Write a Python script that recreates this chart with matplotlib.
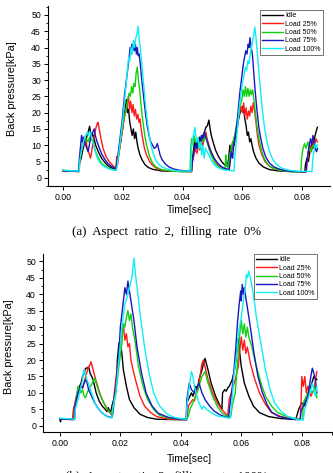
import matplotlib
matplotlib.use("Agg")
from matplotlib import pyplot as plt
from matplotlib.ticker import MultipleLocator

# (time [ms], back pressure [kPa])
labels = ['Idle', 'Load 25%', 'Load 50%', 'Load 75%', 'Load 100%']
colors = ['#000000', '#ff1a1a', '#10d010', '#1818c0', '#10eef5']

# ---- (a) filling rate 0% ----
a_idle = [(0, 2.1), (5.4, 1.9), (5.6, 4.5), (6.2, 6), (6.6, 8), (7.0, 9.5), (7.5, 11), (8.0, 12.5), (8.5, 14),
          (9.0, 15.8), (9.3, 14), (9.6, 12.5), (10.0, 13.5), (10.5, 12), (11.0, 10), (12.0, 7.8), (13.0, 6),
          (14.0, 4.8), (15.0, 3.8), (16.0, 3.2), (17.0, 2.7), (17.6, 2.5), (18.0, 4), (18.5, 6), (19.0, 9),
          (19.5, 12), (20.0, 15), (20.5, 19), (21.0, 22), (21.3, 24), (21.6, 20), (22.0, 21), (22.4, 17),
          (22.8, 15), (23.2, 13), (23.6, 15), (24.0, 12), (24.4, 14), (24.8, 11), (25.2, 9), (25.8, 7),
          (26.5, 5.5), (27.5, 4), (28.5, 3.2), (30, 2.6), (33, 2.1), (36, 2.0), (40, 1.9), (43.0, 1.9),
          (43.2, 5), (43.6, 8), (44.0, 11), (44.4, 9), (44.8, 12), (45.3, 10), (45.8, 12.5), (46.3, 11),
          (46.8, 13), (47.3, 14), (47.8, 15.5), (48.3, 16), (48.8, 17.7), (49.2, 15), (49.6, 13), (50.2, 11),
          (51, 8.5), (52, 6.5), (53, 5), (54, 4), (55, 3.5), (55.4, 6), (55.8, 10), (56.2, 7), (56.7, 11),
          (57.2, 10), (57.7, 13), (58.2, 15), (58.7, 18), (59.2, 20), (59.7, 21), (60.2, 22), (60.5, 20),
          (60.8, 18), (61.2, 16), (61.6, 13), (62, 14), (62.4, 11), (62.8, 12), (63.2, 10), (63.7, 8),
          (64.5, 6), (65.5, 4.5), (67, 3.3), (69, 2.5), (72, 2.1), (76, 1.9), (80.8, 1.8), (81.0, 4),
          (81.5, 6), (82, 5), (82.5, 8), (83, 10), (83.5, 9), (84, 12), (84.5, 14), (85, 15.5)]
a_load25 = [(0, 2.2), (5.5, 2.0), (5.7, 5), (6.2, 8), (6.6, 10), (7.0, 11), (7.4, 10), (7.8, 11.5), (8.2, 9),
            (8.6, 8), (9.0, 7), (9.3, 6), (9.6, 7.5), (10.0, 10), (10.5, 12.5), (11.0, 15), (11.5, 16.5),
            (11.8, 17), (12.2, 15), (12.8, 12), (13.5, 9), (14.5, 6.5), (15.5, 5), (16.5, 4), (17.3, 3.2),
            (17.8, 2.8), (18.0, 6.5), (18.3, 4), (18.7, 7), (19.2, 10), (19.7, 13), (20.2, 16), (20.7, 19),
            (21.2, 21), (21.6, 23), (22.0, 25), (22.3, 21), (22.7, 23.5), (23.1, 20), (23.5, 22.5), (23.9, 19),
            (24.3, 21), (24.7, 18), (25.1, 19.5), (25.5, 17), (25.8, 18), (26.2, 15), (26.7, 12), (27.3, 9),
            (28, 7), (29, 5), (30, 3.8), (31.5, 2.8), (34, 2.2), (38, 2.0), (43.0, 1.9), (43.3, 5), (43.8, 7),
            (44.3, 9), (44.8, 7.5), (45.3, 10), (45.8, 8.5), (46.3, 11), (46.8, 10), (47.3, 12.5), (47.8, 14),
            (48.2, 12), (48.8, 10), (49.5, 8), (50.5, 6), (51.5, 4.5), (52.5, 3.5), (54, 2.8), (55.5, 2.5),
            (56.0, 6), (56.5, 9), (57, 11), (57.5, 13), (58, 15), (58.5, 18), (59, 20), (59.5, 22), (60, 20),
            (60.4, 23), (60.8, 19), (61.2, 21.5), (61.6, 18), (62, 20.5), (62.4, 19), (62.8, 22), (63.2, 20),
            (63.6, 23), (64, 21), (64.5, 17), (65, 13), (65.5, 10), (66.5, 7), (67.5, 5), (69, 3.5),
            (71, 2.6), (74, 2.1), (78, 1.9), (81.3, 1.8), (81.6, 5), (82, 8), (82.5, 10), (83, 8), (83.5, 11),
            (84, 9), (84.5, 12), (85, 11)]
a_load50 = [(0, 2.3), (5.4, 2.0), (5.6, 5), (6.0, 7), (6.5, 9), (7.0, 10.5), (7.5, 11), (8.0, 12), (8.5, 11),
            (9.0, 12.5), (9.5, 11.5), (10.0, 12), (10.4, 10), (11.0, 8), (12.0, 6), (13, 4.5), (14, 3.7),
            (15, 3.1), (16, 2.7), (17, 2.4), (17.8, 2.3), (18.2, 5), (18.7, 8), (19.2, 11), (19.7, 14),
            (20.2, 17), (20.7, 19), (21.2, 21), (21.7, 24), (22.2, 26), (22.6, 25), (23, 28), (23.4, 26),
            (23.8, 29), (24.2, 28), (24.5, 32), (24.9, 34), (25.3, 30), (25.7, 27), (26.2, 22), (26.8, 17),
            (27.4, 13), (28, 10), (29, 6.5), (30, 4.5), (31, 3.4), (33, 2.5), (36, 2.1), (40, 1.9), (42.5, 1.9),
            (42.7, 8), (43.0, 12), (43.4, 10), (43.8, 13), (44.2, 11), (44.7, 12), (45.2, 9), (45.7, 11),
            (46.2, 10), (46.7, 12), (47.2, 11.5), (47.7, 13), (48.2, 11), (48.8, 9), (49.5, 7), (50.5, 5),
            (51.5, 3.8), (52.5, 3), (53.5, 2.6), (54.2, 2.5), (54.4, 7), (54.7, 4), (55.2, 3), (55.6, 6),
            (56.2, 9), (56.8, 11), (57.4, 13), (58, 16), (58.6, 19), (59.2, 22), (59.8, 24), (60.2, 27),
            (60.6, 25), (61, 28), (61.4, 25), (61.8, 27.5), (62.2, 25), (62.6, 27), (63, 25.5), (63.4, 27),
            (63.8, 24), (64.3, 20), (64.8, 16), (65.5, 12), (66.3, 8.5), (67.2, 6), (68.5, 4), (70, 3),
            (72.5, 2.3), (76, 1.9), (79.5, 1.8), (79.7, 6), (80.2, 9), (80.7, 10.5), (81.2, 9), (81.8, 11),
            (82.3, 9), (82.8, 8), (83.4, 10), (84, 9.5), (84.5, 8.5), (85, 9)]
a_load75 = [(0, 2.2), (5.4, 1.9), (5.6, 6), (6.0, 10), (6.3, 13), (6.6, 11), (6.9, 12.5), (7.3, 11), (7.7, 10),
            (8.1, 9), (8.5, 8), (8.9, 10), (9.3, 12), (9.7, 13.5), (10.1, 14), (10.5, 15), (10.9, 13),
            (11.5, 11), (12.3, 9), (13.2, 7), (14.2, 5.5), (15.2, 4.3), (16.2, 3.6), (17.2, 3.0), (17.8, 2.7),
            (18.2, 5), (18.6, 8), (19.0, 11), (19.4, 14), (19.8, 17), (20.2, 21), (20.6, 25), (21.0, 28),
            (21.4, 31), (21.8, 34), (22.2, 37), (22.5, 40), (22.8, 38), (23.1, 41), (23.4, 39), (23.7, 42),
            (24.0, 39), (24.3, 41), (24.6, 38), (24.9, 40), (25.2, 37.5), (25.5, 38), (25.9, 35), (26.4, 30),
            (27, 25), (27.6, 20), (28.2, 16), (28.8, 13), (29.4, 11), (30, 10), (30.6, 9), (31.2, 9.5),
            (31.6, 10.5), (32, 9), (32.5, 7), (33.2, 5.5), (34.2, 4.3), (35.5, 3.3), (37, 2.7), (39, 2.3),
            (41, 2.1), (43, 2.0), (43.3, 5), (43.8, 8), (44.3, 10), (44.8, 9), (45.3, 12), (45.8, 10),
            (46.3, 13), (46.8, 12), (47.3, 14), (47.7, 12.5), (48.3, 11), (49, 9), (50, 7), (51, 5.3),
            (52, 4.2), (53, 3.4), (54, 2.9), (55, 2.6), (55.6, 2.5), (55.9, 5), (56.3, 8), (56.7, 6),
            (57.1, 10), (57.5, 12), (57.9, 15), (58.3, 18), (58.7, 22), (59.1, 26), (59.5, 29), (59.9, 32),
            (60.3, 35), (60.7, 37), (61.1, 39), (61.5, 38), (61.9, 41), (62.2, 40), (62.5, 43), (62.9, 40),
            (63.3, 38), (63.7, 33), (64.2, 27), (64.8, 21), (65.4, 16), (66, 12.5), (66.8, 9), (67.8, 6.3),
            (69, 4.5), (70.5, 3.3), (72.5, 2.6), (75, 2.1), (78, 1.9), (81.2, 1.8), (81.5, 5), (81.9, 8),
            (82.3, 10), (82.7, 12), (83.1, 10), (83.5, 13), (83.9, 11), (84.3, 9), (84.7, 8), (85, 9)]
a_load100 = [(0, 2.3), (5.5, 2.0), (5.7, 5), (6.2, 8), (6.7, 10), (7.2, 12), (7.7, 13), (8.2, 14), (8.6, 13),
             (9.0, 14.2), (9.4, 13.5), (9.8, 12), (10.3, 10), (10.9, 8), (11.6, 6), (12.4, 4.7), (13.3, 3.8),
             (14.3, 3.2), (15.3, 2.8), (16.3, 2.5), (17.3, 2.4), (18.0, 2.3), (18.4, 5), (18.8, 8), (19.2, 11),
             (19.6, 14), (20.0, 17), (20.4, 21), (20.8, 25), (21.2, 29), (21.6, 33), (22.0, 37), (22.4, 36),
             (22.8, 40), (23.2, 38), (23.6, 42), (24.0, 40), (24.4, 43), (24.8, 44), (25.2, 46.5), (25.5, 43),
             (25.9, 40), (26.3, 36), (26.8, 31), (27.3, 26), (27.8, 21), (28.3, 17), (28.9, 13), (29.5, 10),
             (30.2, 7.5), (31, 5.5), (32, 4.2), (33, 3.4), (34.5, 2.8), (36.5, 2.3), (39, 2.1), (42.8, 2.0),
             (43.0, 9), (43.4, 12), (43.8, 14), (44.1, 15.5), (44.4, 13), (44.8, 11), (45.2, 12.5), (45.6, 9),
             (46.0, 11), (46.4, 7), (46.8, 10), (47.2, 6), (47.7, 9), (48.2, 8), (48.8, 7), (49.5, 5.5),
             (50.3, 4.3), (51.3, 3.4), (52.5, 2.8), (54, 2.4), (56, 2.2), (57.2, 2.1), (57.4, 6), (57.8, 10),
             (58.2, 14), (58.6, 18), (59, 22), (59.4, 25), (59.8, 28), (60.2, 30), (60.6, 32), (61, 34),
             (61.4, 33), (61.8, 36), (62.2, 35), (62.6, 38), (63, 40), (63.4, 42), (63.8, 44), (64.1, 46.3),
             (64.5, 43), (65, 38), (65.5, 32), (66, 27), (66.5, 22), (67, 18), (67.6, 14), (68.3, 10.5),
             (69.2, 7.5), (70.2, 5.5), (71.5, 4), (73, 3), (75, 2.4), (78, 2.0), (83.2, 1.9), (83.5, 6),
             (84, 9), (84.3, 10.5), (84.7, 9), (85, 10)]

# ---- (b) ----
b_idle = [(0, 2.0), (0.2, 1.2), (0.4, 2.0), (4.3, 1.9), (4.5, 5), (5.0, 6.5), (5.5, 8), (6.0, 10), (6.5, 12),
          (7.0, 13), (7.5, 15), (8.0, 16), (8.5, 17.5), (9.0, 17.5), (9.5, 18), (10.0, 16), (10.5, 15),
          (11.0, 14), (12.0, 10), (13.0, 7.5), (14.0, 6), (15.0, 5), (15.6, 4.3), (16.0, 5.5), (16.4, 4.5),
          (16.8, 4), (17.2, 6), (17.8, 8), (18.3, 10), (18.8, 15), (19.0, 20), (19.5, 25), (20.0, 26),
          (20.5, 22), (21.0, 17), (22.0, 12), (23.0, 8), (24.5, 5.5), (26.5, 3.5), (29, 2.5), (32, 2.0),
          (36, 1.9), (41.8, 1.8), (42.0, 7), (42.5, 8), (43.5, 10), (44.0, 9), (45.0, 12), (45.5, 11),
          (46.0, 14), (47.0, 17), (47.5, 19), (48.0, 20.5), (49.0, 17), (50.0, 13), (51.5, 9), (53.0, 6),
          (53.6, 5), (53.8, 10), (54.5, 11), (55.0, 10.5), (55.5, 11.5), (56.0, 12), (57.0, 14), (58.0, 18),
          (58.5, 23), (59.0, 26.5), (59.5, 22), (60.0, 18), (61.0, 13), (62.5, 9), (64.0, 6), (66.0, 4),
          (69.0, 2.8), (73.0, 2.2), (78.0, 1.9), (79.0, 5), (80.0, 7), (81.0, 6), (82.0, 9), (83.0, 12),
          (84.0, 15), (85.0, 14)]
b_load25 = [(0, 2.0), (4.4, 1.9), (4.6, 5), (5.2, 8), (6.0, 11), (6.5, 10), (7.0, 12), (7.5, 11.5), (8.0, 13),
            (8.5, 15), (9.0, 16.5), (9.5, 18), (10.0, 18.5), (10.3, 19.5), (10.7, 18), (11.0, 17), (12.0, 13.5),
            (12.5, 12), (13.5, 9), (14.5, 7), (15.5, 5.5), (16.0, 4.5), (17.0, 3.5), (17.5, 3.3), (18.0, 10),
            (18.5, 14), (19.0, 18), (19.5, 21), (20.0, 25), (20.5, 28), (21.0, 31), (21.5, 26), (22.0, 28),
            (22.5, 24), (23.0, 25), (23.5, 20), (24.2, 17), (25.0, 14), (26.5, 9), (28.0, 6), (30, 4),
            (32, 2.8), (36, 2.0), (42.0, 1.9), (42.2, 4), (42.5, 6), (43.2, 7), (44.0, 8), (44.5, 7.5),
            (45.0, 10), (45.5, 11), (46.0, 13), (46.5, 16), (47.0, 19), (47.5, 20), (48.0, 18), (49.0, 14),
            (50.5, 10), (52.0, 7), (53.5, 5), (55.0, 3.5), (55.5, 3), (56.0, 8), (57.0, 11), (58.0, 14),
            (59.0, 18), (59.5, 23), (60.0, 27), (60.5, 23), (61.0, 26), (61.5, 22), (62.0, 24), (63.0, 19),
            (64.5, 14), (66.0, 10), (68.0, 6.5), (70.0, 4), (73.0, 2.8), (77.0, 2.1), (79.5, 2.0), (79.8, 8),
            (80.0, 15), (80.5, 12), (81.0, 15), (81.5, 10), (82.0, 12), (83.0, 9), (84.0, 11), (85.0, 16.5)]
b_load50 = [(0, 2.2), (4.9, 2.0), (5.1, 6), (5.5, 9), (6.0, 12), (6.5, 11), (7.0, 10), (7.5, 11), (8.0, 9),
            (8.5, 8.5), (9.0, 10), (9.5, 11), (10.0, 12), (10.5, 12.5), (11.0, 13.5), (11.5, 14.5),
            (12.0, 13), (13.0, 10), (14.0, 8), (15.0, 6), (16.0, 4.6), (17.0, 3.8), (17.5, 3.5), (17.8, 6),
            (18.5, 10), (19.5, 18), (20.5, 25), (21.0, 31), (21.5, 30), (22.0, 33), (22.5, 35), (23.0, 32),
            (23.5, 34), (24.0, 30), (25.0, 25), (26.0, 18), (27.5, 12), (29.0, 8), (31.0, 5), (33.0, 3.2),
            (36.0, 2.3), (42.0, 2.0), (42.5, 3), (43.0, 5), (44.0, 7), (45.0, 9), (46.0, 12), (47.0, 15),
            (48.0, 16.5), (49.0, 13), (50.5, 9), (52.0, 6), (53.5, 4), (55.0, 3), (56.5, 2.6), (57.0, 6),
            (58.0, 10), (58.5, 16), (59.0, 22), (59.5, 28), (60.0, 32), (60.5, 28), (61.0, 31), (61.5, 27),
            (62.0, 30), (62.5, 27), (63.5, 24), (65.0, 18), (66.5, 13), (68.0, 9), (70.0, 6), (72.0, 4),
            (75.0, 2.8), (79.0, 2.0), (80.3, 1.9), (80.5, 7), (81.5, 9), (82.5, 11), (83.5, 10), (84.5, 12),
            (85.0, 8.5)]
b_load75 = [(0, 2.1), (4.8, 1.9), (5.0, 6), (6.0, 10), (6.5, 11), (7.0, 12), (7.5, 11.5), (8.0, 13),
            (8.5, 14), (9.0, 13), (9.5, 11), (10.5, 9), (11.5, 7), (12.5, 5.5), (13.5, 4.3), (14.5, 3.5),
            (15.5, 2.9), (16.5, 2.6), (17.2, 2.5), (17.5, 5), (18.5, 12), (19.5, 22), (20.0, 30), (21.0, 38),
            (21.5, 42), (22.0, 40), (22.5, 44), (23.0, 41), (23.5, 38), (24.5, 32), (25.5, 24), (27.0, 16),
            (28.5, 10), (30.5, 6), (32.5, 3.8), (36.0, 2.5), (40.0, 2.0), (41.8, 1.9), (42.0, 8), (42.8, 13),
            (43.5, 11), (44.5, 10), (45.5, 12), (46.0, 13), (47.0, 10), (48.0, 8), (49.5, 6), (51.0, 4.5),
            (53.0, 3.3), (55.0, 2.6), (55.8, 2.5), (56.2, 6), (56.8, 10), (57.5, 16), (58.2, 24), (58.8, 32),
            (59.3, 37), (59.8, 41), (60.0, 38), (60.3, 43), (60.7, 40), (61.0, 42), (62.0, 36), (63.0, 30),
            (64.2, 22), (65.5, 15), (67.0, 10), (68.5, 6.5), (70.0, 4.2), (72.0, 3), (75.0, 2.2), (78.0, 1.9),
            (79.5, 1.9), (79.7, 4), (80.0, 5), (81.0, 7), (82.0, 9), (82.5, 12), (83.0, 15), (83.5, 17.5),
            (84.0, 16), (84.5, 14), (85.0, 10)]
b_load100 = [(0, 2.3), (4.9, 2.0), (5.1, 5), (6.0, 8), (6.5, 10), (7.0, 12), (7.5, 14), (7.8, 16.5),
             (8.0, 17), (8.5, 15.5), (9.0, 14), (10.5, 10), (12.0, 6), (14.0, 3.8), (15.5, 2.8), (16.5, 2.5),
             (17.2, 2.4), (17.4, 5), (18.5, 10), (19.5, 20), (20.5, 30), (21.5, 37), (22.2, 39), (23.0, 42),
             (23.8, 45), (24.5, 51), (25.0, 46), (25.8, 40), (26.8, 32), (28.0, 24), (29.5, 16), (31.0, 10),
             (33.0, 6), (35.5, 3.5), (38.0, 2.5), (41.0, 2.0), (41.8, 2.0), (42.0, 6), (42.5, 10), (43.5, 16.5),
             (44.0, 15), (44.5, 12), (45.0, 10), (46.0, 7), (47.0, 5), (47.5, 6), (48.5, 5), (50.0, 4),
             (52.0, 3), (55.0, 2.5), (56.3, 2.3), (56.5, 4), (57.0, 8), (57.5, 15), (58.5, 22), (59.0, 28),
             (60.0, 33), (60.7, 38), (61.3, 42), (61.7, 46), (62.0, 45), (62.5, 47), (63.0, 45), (64.0, 40),
             (65.0, 33), (66.5, 25), (68.0, 17), (69.5, 11), (71.0, 7), (73.0, 4.5), (75.0, 3), (77.0, 2.3),
             (79.0, 1.8), (80.5, 1.8), (81.0, 5), (82.0, 8), (83.0, 11), (83.5, 13), (84.0, 11), (84.5, 9),
             (85.0, 12)]

panel_a = [a_idle, a_load25, a_load50, a_load75, a_load100]
panel_b = [b_idle, b_load25, b_load50, b_load75, b_load100]

plt.rcParams['font.family'] = ['Liberation Sans', 'DejaVu Sans']

fig = plt.figure(figsize=(3.33, 4.73), dpi=100)
ax_a = fig.add_axes([0.144, 0.607, 0.847, 0.380])
ax_b = fig.add_axes([0.129, 0.086, 0.868, 0.378])


def draw(ax, series, xlim, ylim, legend_anchor, ylab_xy, xlab_xy):
    for pts, lab, col in zip(series, labels, colors):
        t, p = zip(*pts)
        ax.plot([v / 1000 for v in t], p, color=col, lw=1.0, label=lab)
    ax.set_xlim(*xlim)
    ax.set_ylim(*ylim)
    ax.spines['top'].set_visible(False)
    ax.spines['right'].set_visible(False)
    ax.xaxis.set_major_locator(MultipleLocator(0.02))
    ax.xaxis.set_minor_locator(MultipleLocator(0.01))
    ax.yaxis.set_minor_locator(MultipleLocator(2.5))
    ax.set_yticks(range(0, 55, 5))
    ax.xaxis.set_major_formatter(plt.FuncFormatter(lambda v, _: '%.2f' % v))
    ax.tick_params(which='major', direction='out', length=3, width=0.7, labelsize=6.3, pad=2)
    ax.tick_params(which='minor', direction='out', length=1.8, width=0.6)
    ax.set_xlabel('Time[sec]', fontsize=7.5)
    ax.set_ylabel('Back pressure[kPa]', fontsize=7.8)
    ax.yaxis.set_label_coords(*ylab_xy)
    ax.xaxis.set_label_coords(*xlab_xy)
    leg = ax.legend(loc='upper right', bbox_to_anchor=legend_anchor, fontsize=5.0, frameon=True,
                    fancybox=False, edgecolor='#333333', handlelength=3.0, handletextpad=0.3,
                    labelspacing=0.2, borderpad=0.3, borderaxespad=0)
    leg.get_frame().set_linewidth(0.6)


draw(ax_a, panel_a, (-0.0049, 0.0892), (-2.5, 52.7), (0.975, 0.978), (-0.109, 0.54), (0.50, -0.106))
draw(ax_b, panel_b, (-0.0056, 0.0900), (-2.0, 52.4), (0.948, 0.996), (-0.101, 0.48), (0.505, -0.120))

fig.text(0.5, 1 - 232 / 473, '(a)  Aspect  ratio  2,  filling  rate  0%', ha='center', va='center',
         family='Liberation Serif', fontsize=9.3)
fig.text(0.5, 1 - 471 / 473, '(b)  Aspect  ratio  2,  filling  rate  100%', ha='center', va='top',
         family='Liberation Serif', fontsize=9.3)

fig.savefig('out.png', dpi=100)
